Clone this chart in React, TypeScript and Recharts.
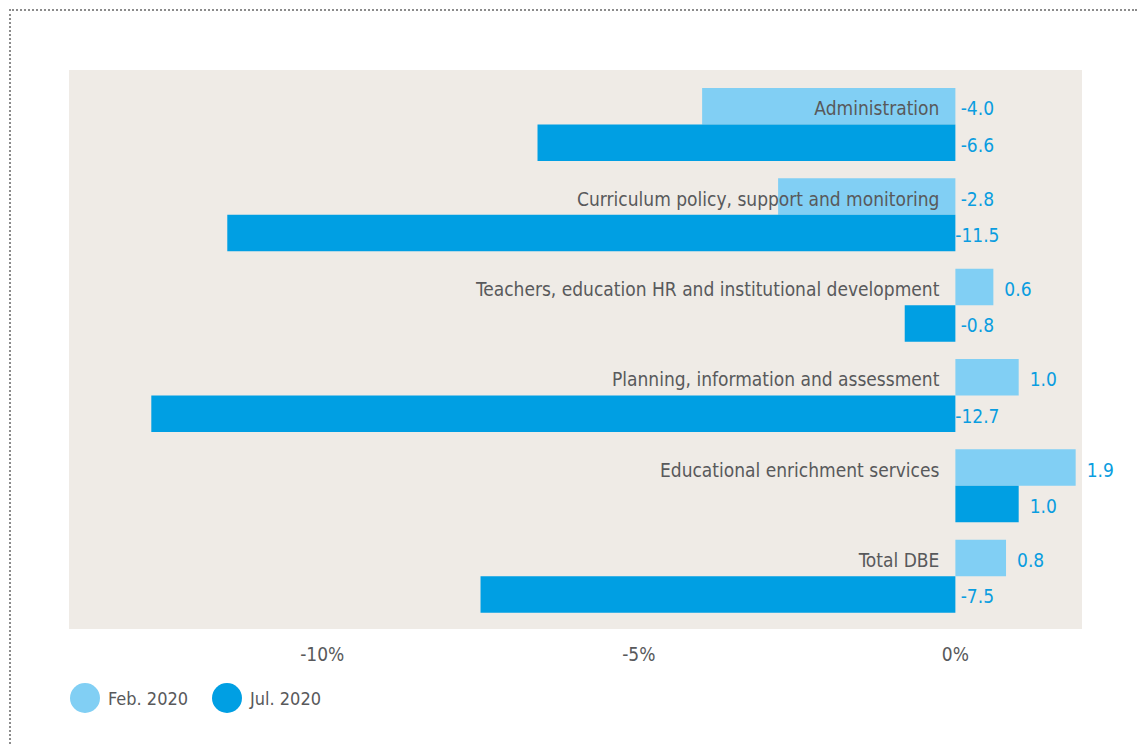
import { BarChart, Bar, XAxis, YAxis, CartesianGrid, LabelList } from "recharts";

const categories = [
  "Administration",
  "Curriculum policy, support and monitoring",
  "Teachers, education HR and institutional development",
  "Planning, information and assessment",
  "Educational enrichment services",
  "Total DBE",
];
const feb2020 = [-4.0, -2.8, 0.6, 1.0, 1.9, 0.8];
const jul2020 = [-6.6, -11.5, -0.8, -12.7, 1.0, -7.5];
const xTicks = [-10, -5, 0];

const FONT = '"Liberation Sans Narrow", "DejaVu Sans Condensed", "Roboto", sans-serif';
const FEB = "#81cff4";
const JUL = "#009fe3";
const LABEL_BLUE = "#0a9de0";
const GREY = "#58595b";

const data = categories.map((name, i) => ({ name, feb: feb2020[i], jul: jul2020[i] }));

// ends of a bar: zero side and value side
const ends = (x: number, width: number, value: number) => {
  const a = Math.min(x, x + width);
  const b = Math.max(x, x + width);
  return value < 0 ? { zero: b, end: a } : { zero: a, end: b };
};

const ValueLabel = (props: any) => {
  const { x, y, width, height, value } = props;
  const { zero, end } = ends(Number(x), Number(width), Number(value));
  const cy = Number(y) + Number(height) / 2 + 2;
  const neg = Number(value) < 0;
  return (
    <text
      x={neg ? zero + 22 : end + 11}
      y={cy}
      textAnchor={neg ? "middle" : "start"}
      dominantBaseline="central"
      fill={LABEL_BLUE}
      fontSize={19}
      fontFamily={FONT}
    >
      {Number(value).toFixed(1)}
    </text>
  );
};

const NameLabel = (props: any) => {
  const { x, y, width, height, value, index } = props;
  const { zero } = ends(Number(x), Number(width), Number(value));
  return (
    <text
      x={zero - 16}
      y={Number(y) + Number(height) / 2 + 2}
      textAnchor="end"
      dominantBaseline="central"
      fill={GREY}
      fontSize={19}
      fontFamily={FONT}
    >
      {categories[index]}
    </text>
  );
};

const LegendItem = ({ color, label, left }: { color: string; label: string; left: number }) => (
  <div style={{ position: "absolute", left, top: 0, display: "flex", alignItems: "center" }}>
    <div style={{ width: 30, height: 30, borderRadius: "50%", background: color, marginRight: 8 }} />
    <span style={{ fontFamily: FONT, fontSize: 18, color: GREY, whiteSpace: "nowrap" }}>{label}</span>
  </div>
);

export default function App() {
  return (
    <div style={{ position: "absolute", left: 0, top: 0, width: 1137, height: 744, background: "#fff" }}>
      <div
        style={{
          position: "absolute",
          left: 9,
          top: 9,
          width: 1128,
          height: 735,
          borderTop: "2px dotted #8c8c8c",
          borderLeft: "2px dotted #8c8c8c",
          boxSizing: "border-box",
        }}
      />
      <div style={{ position: "absolute", left: 0, top: 0 }}>
        <BarChart
          width={1137}
          height={744}
          data={data}
          layout="vertical"
          margin={{ top: 70, right: 55, bottom: 85, left: 69 }}
          barGap={0}
          barSize={36.5}
        >
          <CartesianGrid fill="#efebe6" stroke="none" horizontal={false} vertical={false} />
          <XAxis
            type="number"
            domain={[-14, 2]}
            ticks={xTicks}
            tickFormatter={(v) => `${v}%`}
            axisLine={false}
            tickLine={false}
            height={30}
            tick={{ fill: GREY, fontSize: 19, fontFamily: FONT }}
            tickMargin={13}
          />
          <YAxis type="category" dataKey="name" hide padding={{ top: 9, bottom: 8 }} />
          <Bar dataKey="feb" fill={FEB} isAnimationActive={false}>
            <LabelList dataKey="feb" content={<NameLabel />} />
            <LabelList dataKey="feb" content={<ValueLabel />} />
          </Bar>
          <Bar dataKey="jul" fill={JUL} isAnimationActive={false}>
            <LabelList dataKey="jul" content={<ValueLabel />} />
          </Bar>
        </BarChart>
      </div>
      <div style={{ position: "absolute", left: 0, top: 683 }}>
        <LegendItem color={FEB} label="Feb. 2020" left={70} />
        <LegendItem color={JUL} label="Jul. 2020" left={212} />
      </div>
    </div>
  );
}
